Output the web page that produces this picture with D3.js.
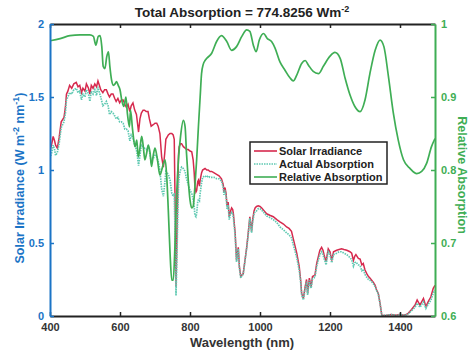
<!DOCTYPE html>
<html><head><meta charset="utf-8">
<script src="https://cdn.jsdelivr.net/npm/d3@7"></script>
<style>body{margin:0;background:#fff}svg{display:block;font-family:"Liberation Sans",Arial,sans-serif;font-weight:bold}</style>
</head><body><svg id="c" width="471" height="353"></svg>
<script>
const wavelength = [400,405,409,413,416,421,426,432,440,444,447,451,456,462,468,475,480,485,490,494,500,504,510,514,518,523,528,533,537,541,545,551,556,561,566,570,575,580,585,589,594,599,604,609,614,618,623,628,632,637,642,647,650,653,657,661,666,670,675,680,684,689,695,700,705,709,714,719,724,728,731,738,743,748,752,755,757,760,762,764,767,769,773,776,781,786,790,795,800,805,809,812,814,817,819,822,824,827,829,833,836,843,848,852,857,862,869,876,883,890,895,897,900,903,906,909,912,916,919,922,924,927,929,933,936,938,941,945,948,952,957,962,966,971,974,976,979,983,986,990,995,1000,1005,1012,1019,1028,1038,1048,1057,1067,1076,1083,1090,1095,1100,1105,1112,1116,1119,1124,1129,1133,1136,1141,1146,1150,1157,1162,1167,1171,1176,1180,1183,1189,1192,1195,1200,1205,1210,1219,1226,1233,1240,1248,1257,1262,1267,1271,1274,1281,1286,1291,1295,1300,1305,1310,1314,1319,1324,1329,1333,1338,1343,1348,1360,1375,1390,1400,1410,1418,1424,1433,1443,1449,1457,1467,1474,1481,1488,1495,1500];
const solarIrradiance = [1.13,1.18,1.23,1.20,1.17,1.15,1.22,1.33,1.36,1.43,1.52,1.54,1.58,1.56,1.59,1.60,1.57,1.58,1.53,1.56,1.54,1.59,1.56,1.52,1.58,1.56,1.59,1.57,1.61,1.58,1.55,1.53,1.55,1.55,1.52,1.50,1.52,1.52,1.49,1.47,1.49,1.46,1.48,1.48,1.45,1.43,1.45,1.40,1.44,1.46,1.41,1.38,1.32,1.26,1.35,1.39,1.41,1.41,1.40,1.40,1.35,1.30,1.31,1.32,1.32,1.30,1.25,1.09,1.02,1.12,1.21,1.24,1.25,1.25,1.24,1.21,0.84,0.20,0.45,0.73,1.10,1.16,1.18,1.18,1.16,1.15,1.14,1.14,1.13,1.125,1.07,0.98,0.885,0.85,0.86,0.92,0.93,0.89,0.93,0.98,1.00,1.01,1.00,1.00,0.99,0.99,0.98,0.97,0.96,0.94,0.90,0.85,0.88,0.84,0.75,0.78,0.68,0.72,0.74,0.73,0.70,0.62,0.57,0.38,0.44,0.47,0.34,0.27,0.28,0.29,0.38,0.47,0.56,0.68,0.62,0.58,0.66,0.72,0.74,0.75,0.755,0.75,0.74,0.72,0.70,0.69,0.68,0.66,0.645,0.63,0.61,0.60,0.58,0.53,0.48,0.43,0.34,0.25,0.155,0.12,0.20,0.25,0.155,0.26,0.20,0.27,0.28,0.36,0.41,0.45,0.47,0.45,0.42,0.37,0.42,0.46,0.44,0.38,0.44,0.45,0.455,0.46,0.455,0.45,0.44,0.43,0.38,0.41,0.42,0.395,0.39,0.35,0.36,0.315,0.29,0.27,0.26,0.245,0.23,0.21,0.18,0.155,0.087,0.005,0.004,0.01,0.005,0.012,0.006,0.01,0.02,0.045,0.075,0.11,0.075,0.12,0.065,0.10,0.13,0.19,0.21];
const actualAbsorption = [1.08,1.12,1.17,1.14,1.10,1.12,1.18,1.29,1.33,1.39,1.48,1.50,1.53,1.52,1.55,1.56,1.53,1.54,1.48,1.52,1.50,1.55,1.52,1.47,1.54,1.52,1.55,1.51,1.57,1.53,1.50,1.44,1.45,1.47,1.44,1.38,1.40,1.39,1.37,1.35,1.36,1.33,1.33,1.32,1.28,1.28,1.27,1.20,1.24,1.22,1.17,1.14,1.09,1.03,1.10,1.17,1.16,1.15,1.14,1.16,1.13,1.06,1.08,1.10,1.09,1.06,1.00,0.87,0.82,0.91,0.99,0.97,0.93,0.84,0.82,0.84,0.60,0.14,0.33,0.56,0.89,0.96,1.00,1.02,1.01,0.99,0.94,0.90,0.86,0.84,0.80,0.75,0.69,0.68,0.70,0.78,0.80,0.79,0.84,0.91,0.95,0.96,0.95,0.96,0.95,0.95,0.95,0.94,0.94,0.925,0.88,0.83,0.86,0.82,0.73,0.76,0.66,0.70,0.71,0.70,0.67,0.60,0.55,0.37,0.43,0.46,0.33,0.26,0.275,0.285,0.375,0.465,0.55,0.67,0.61,0.57,0.64,0.70,0.715,0.72,0.735,0.735,0.725,0.705,0.685,0.675,0.66,0.64,0.61,0.59,0.57,0.555,0.535,0.49,0.445,0.40,0.315,0.235,0.145,0.11,0.19,0.235,0.145,0.245,0.19,0.255,0.265,0.34,0.385,0.42,0.44,0.42,0.395,0.35,0.40,0.44,0.42,0.365,0.42,0.43,0.44,0.44,0.43,0.42,0.40,0.385,0.34,0.365,0.37,0.35,0.345,0.31,0.32,0.285,0.265,0.25,0.245,0.235,0.22,0.20,0.175,0.15,0.085,0.005,0.004,0.01,0.004,0.01,0.005,0.008,0.016,0.037,0.06,0.088,0.06,0.096,0.052,0.082,0.107,0.158,0.177];
const relWavelength = [400,429,457,486,514,524,531,538,543,548,552,557,562,567,571,576,581,586,590,595,600,605,611,617,621,627,630,636,643,648,652,657,662,667,671,676,681,686,690,695,700,707,714,722,729,733,738,743,748,752,757,762,767,773,781,786,790,795,800,805,809,814,819,824,829,833,838,843,848,862,876,890,905,919,933,948,962,971,981,989,998,1010,1021,1033,1043,1057,1071,1086,1095,1105,1119,1129,1138,1152,1167,1181,1200,1214,1229,1243,1257,1271,1286,1300,1314,1329,1343,1354,1367,1381,1395,1410,1429,1448,1462,1476,1490,1500];
const relativeAbsorption = [0.977,0.980,0.984,0.985,0.985,0.983,0.971,0.983,0.984,0.969,0.942,0.939,0.955,0.962,0.942,0.923,0.916,0.918,0.921,0.916,0.910,0.896,0.887,0.900,0.878,0.859,0.882,0.855,0.832,0.841,0.818,0.830,0.846,0.830,0.814,0.823,0.834,0.823,0.805,0.820,0.830,0.814,0.793,0.805,0.814,0.795,0.745,0.686,0.649,0.649,0.695,0.768,0.814,0.846,0.868,0.859,0.823,0.786,0.759,0.748,0.750,0.777,0.814,0.859,0.900,0.932,0.945,0.950,0.953,0.960,0.976,0.984,0.976,0.964,0.969,0.983,0.992,0.990,0.971,0.962,0.978,0.987,0.980,0.976,0.967,0.948,0.937,0.926,0.922,0.930,0.946,0.950,0.944,0.935,0.932,0.942,0.956,0.961,0.953,0.926,0.903,0.887,0.880,0.896,0.932,0.964,0.978,0.969,0.928,0.878,0.841,0.814,0.802,0.795,0.798,0.809,0.832,0.843];
const xTicks = [400,600,800,1000,1200,1400];
const yLeftTicks = [0,0.5,1,1.5,2];
const yRightTicks = [0.6,0.7,0.8,0.9,1];
const legendLabels = ["Solar Irradiance","Actual Absorption","Relative Absorption"];

const RED="#d62a4e", TEAL="#5fc9b2", GREEN="#3fae55", BLUE="#1b74c6", DARK="#333";
const svg = d3.select("#c");
const L=50, R=435, T=24, B=316;
const x = d3.scaleLinear().domain([400,1500]).range([L,R]);
const yL = d3.scaleLinear().domain([0,2]).range([B,T]);
const yR = d3.scaleLinear().domain([0.6,1]).range([B,T]);

svg.append("clipPath").attr("id","cp").append("rect").attr("x",L).attr("y",T-2).attr("width",R-L).attr("height",B-T+2);
const g = svg.append("g").attr("clip-path","url(#cp)");

const idx = d3.range(wavelength.length);
g.append("path").attr("fill","none").attr("stroke",RED).attr("stroke-width",1.5)
 .attr("d", d3.line().x(i=>x(wavelength[i])).y(i=>yL(solarIrradiance[i]))(idx));
g.append("path").attr("fill","none").attr("stroke",TEAL).attr("stroke-width",1.7).attr("stroke-dasharray","1.5,1")
 .attr("d", d3.line().x(i=>x(wavelength[i])).y(i=>yL(actualAbsorption[i]))(idx));
const ridx = d3.range(relWavelength.length);
g.append("path").attr("fill","none").attr("stroke",GREEN).attr("stroke-width",1.7)
 .attr("d", d3.line().curve(d3.curveMonotoneX).x(i=>x(relWavelength[i])).y(i=>yR(relativeAbsorption[i]))(ridx));

const FONT = "Liberation Sans, Arial, sans-serif";
const axB = svg.append("g").attr("transform",`translate(0,${B})`)
 .call(d3.axisBottom(x).tickValues(xTicks).tickSizeInner(-4).tickSizeOuter(0).tickPadding(7).tickFormat(d3.format("d")));
axB.select(".domain").attr("stroke","#222").attr("stroke-width",2);
axB.selectAll(".tick line").attr("stroke","#222").attr("stroke-width",1.5);
axB.selectAll("text").attr("fill",DARK).attr("font-size",11).attr("font-weight","bold").attr("font-family",FONT);

const axT = svg.append("g").attr("transform",`translate(0,${T})`)
 .call(d3.axisTop(x).tickValues(xTicks).tickSizeInner(-4).tickSizeOuter(0).tickFormat(""));
axT.select(".domain").attr("stroke","#222").attr("stroke-width",2);
axT.selectAll(".tick line").attr("stroke","#222").attr("stroke-width",1.5);

const axL = svg.append("g").attr("transform",`translate(${L},0)`)
 .call(d3.axisLeft(yL).tickValues(yLeftTicks).tickSizeInner(-4).tickSizeOuter(0).tickPadding(6).tickFormat(d3.format("~g")));
axL.select(".domain").attr("stroke",BLUE).attr("stroke-width",2);
axL.selectAll(".tick line").attr("stroke",BLUE).attr("stroke-width",1.5);
axL.selectAll("text").attr("fill",BLUE).attr("font-size",11).attr("font-weight","bold").attr("font-family",FONT);

const axR = svg.append("g").attr("transform",`translate(${R},0)`)
 .call(d3.axisRight(yR).tickValues(yRightTicks).tickSizeInner(-4).tickSizeOuter(0).tickPadding(6).tickFormat(d3.format("~g")));
axR.select(".domain").attr("stroke",GREEN).attr("stroke-width",2);
axR.selectAll(".tick line").attr("stroke",GREEN).attr("stroke-width",1.5);
axR.selectAll("text").attr("fill",GREEN).attr("font-size",11).attr("font-weight","bold").attr("font-family",FONT);

const title = svg.append("text").attr("x",242).attr("y",17).attr("text-anchor","middle").attr("font-size",13.5).attr("fill","#222");
title.append("tspan").text("Total Absorption = 774.8256 Wm");
title.append("tspan").attr("dy",-5).attr("font-size",9).text("-2");

svg.append("text").attr("x",242).attr("y",347).attr("text-anchor","middle").attr("font-size",13).attr("fill",DARK).text("Wavelength (nm)");

const ll = svg.append("text").attr("transform","translate(24,178) rotate(-90)").attr("text-anchor","middle").attr("font-size",12.5).attr("fill",BLUE);
ll.append("tspan").text("Solar Irradiance (W m");
ll.append("tspan").attr("dy",-5).attr("font-size",9).text("-2");
ll.append("tspan").attr("dy",5).text(" nm");
ll.append("tspan").attr("dy",-5).attr("font-size",9).text("-1");
ll.append("tspan").attr("dy",5).text(")");

svg.append("text").attr("transform","translate(458,175) rotate(90)").attr("text-anchor","middle").attr("font-size",12.5).attr("fill",GREEN).text("Relative Absorption");

const lg = svg.append("g");
lg.append("rect").attr("x",250).attr("y",142).attr("width",137).attr("height",42).attr("fill","#fff").attr("stroke","#222").attr("stroke-width",1.5);
const lcol = [RED,TEAL,GREEN];
legendLabels.forEach((t,i)=>{
  const yy = 151 + i*13;
  lg.append("line").attr("x1",254).attr("x2",277).attr("y1",yy).attr("y2",yy).attr("stroke",lcol[i]).attr("stroke-width",1.6).attr("stroke-dasharray",i===1?"1.5,1":null);
  lg.append("text").attr("x",279).attr("y",yy+4).attr("font-size",11).attr("fill","#222").text(t);
});
</script></body></html>
